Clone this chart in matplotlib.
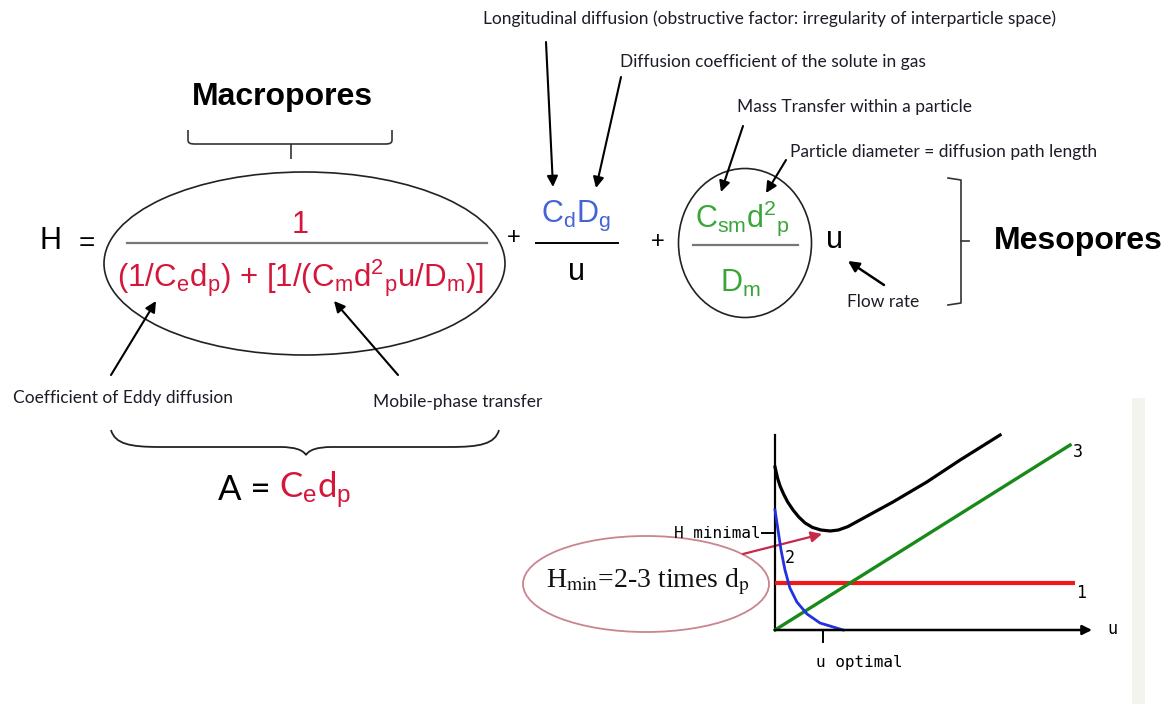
import matplotlib
matplotlib.use('Agg')
import matplotlib.pyplot as plt
from matplotlib.patches import Ellipse, Rectangle, PathPatch
from matplotlib.path import Path

plt.rcParams['mathtext.fontset'] = 'custom'
plt.rcParams['mathtext.rm'] = 'Liberation Sans'
plt.rcParams['mathtext.it'] = 'Liberation Sans:italic'

# --- van Deemter sketch (inset): u and H in arbitrary units ---
u_axis_max = 10.0
h_axis_max = 9.75
term1_u = [0.0, 9.46]                 # A term, constant
term1_h = [2.35, 2.35]
term2_u = [0.0, 0.095, 0.19, 0.315, 0.47, 0.69, 1.01, 1.42, 2.15]   # B/u term
term2_h = [6.0, 5.0, 4.0, 3.0, 2.1, 1.4, 0.8, 0.35, 0.0]
term3_u = [0.0, 9.31]                 # C*u term
term3_h = [0.0, 9.25]
total_u = [0.0, 0.03, 0.08, 0.16, 0.27, 0.4, 0.57, 0.75, 0.95, 1.18, 1.45, 1.74,
           2.0, 2.3, 2.68, 3.2, 3.72, 4.79, 5.84, 7.10]
total_h = [8.15, 7.95, 7.6, 7.2, 6.8, 6.4, 6.0, 5.65, 5.35, 5.13, 5.0, 4.95,
           5.0, 5.17, 5.5, 5.95, 6.4, 7.4, 8.5, 9.75]
h_minimal = 4.85
u_optimal = 1.5
curve_labels = ['1', '2', '3']

RED = '#d4163a'
BLUE = '#4563d6'
GREEN = '#3aa63a'
INK = '#1c1c28'
ANN = 'Lato'
EQ = 'Liberation Sans'

fig = plt.figure(figsize=(11.72, 7.04), dpi=100)
ax = fig.add_axes([0, 0, 1, 1])
ax.set_xlim(0, 1172)
ax.set_ylim(704, 0)
ax.axis('off')

# faint panel edge on the right
ax.add_patch(Rectangle((1132, 398), 13, 306, color='#f4f4ee', lw=0))


def arrow(tail, head, color='black', lw=1.5):
    ax.annotate('', xy=head, xytext=tail,
                arrowprops=dict(arrowstyle='-|>', color=color, lw=lw,
                                mutation_scale=16, shrinkA=0, shrinkB=0))


# annotations at the top
ax.text(483, 19, 'Longitudinal diffusion (obstructive factor: irregularity of interparticle space)',
        family=ANN, fontsize=12.5, color=INK, va='center')
ax.text(620, 62, 'Diffusion coefficient of the solute in gas', family=ANN, fontsize=12.5,
        color=INK, va='center')
ax.text(737, 107, 'Mass Transfer within a particle', family=ANN, fontsize=12.5,
        color=INK, va='center')
ax.text(790, 152, 'Particle diameter = diffusion path length', family=ANN, fontsize=12.5,
        color=INK, va='center')
arrow((546, 42), (553, 187))
arrow((621, 77), (596, 188))
arrow((743, 126), (721, 192))
arrow((786, 160), (766, 193))

# Macropores heading + brace
ax.text(282, 97, 'Macropores', family=EQ, fontweight='bold', fontsize=23,
        ha='center', va='center', color='black')
top_brace = Path([(188, 130), (188, 140), (188, 143), (190, 144), (195, 144),
                  (385, 144), (390, 144), (392, 143), (392, 140), (392, 130),
                  (291, 144), (291, 159)],
                 [Path.MOVETO, Path.LINETO, Path.CURVE4, Path.CURVE4, Path.CURVE4,
                  Path.LINETO, Path.CURVE4, Path.CURVE4, Path.CURVE4, Path.LINETO,
                  Path.MOVETO, Path.LINETO])
ax.add_patch(PathPatch(top_brace, fill=False, lw=1.2, ec='#333333'))

# H = ...
ax.text(50, 241, 'H', family=EQ, fontsize=22, ha='center', va='center')
ax.text(87, 244, '=', family=EQ, fontsize=20, ha='center', va='center')
ax.add_patch(Ellipse((304.5, 263.5), 401, 183, fill=False, ec='#222222', lw=1.2))
ax.text(300, 225, '1', family=EQ, fontsize=22, ha='center', va='center', color=RED)
ax.plot([127, 487], [243, 243], color='#777777', lw=1.6)
ax.text(300, 278,
        r'(1/C$_\mathrm{e}$d$_\mathrm{p}$) + [1/(C$_\mathrm{m}$d$^\mathrm{2}$$_\mathrm{p}$u/D$_\mathrm{m}$)]',
        family=EQ, fontsize=22.5, ha='center', va='center', color=RED)

# + CdDg / u
ax.text(514, 238, '+', family=EQ, fontsize=17, ha='center', va='center')
ax.text(576, 216, r'C$_\mathrm{d}$D$_\mathrm{g}$', family=EQ, fontsize=22,
        ha='center', va='center', color=BLUE)
ax.plot([536, 618], [243, 243], color='black', lw=1.4)
ax.text(577, 272, 'u', family=EQ, fontsize=22, ha='center', va='center')

# + (Csm d2p / Dm) u
ax.text(658, 242, '+', family=EQ, fontsize=17, ha='center', va='center')
ax.add_patch(Ellipse((745, 243), 133, 149, fill=False, ec='#222222', lw=1.2))
ax.text(743, 218, r'C$_\mathrm{sm}$d$^\mathrm{2}$$_\mathrm{p}$', family=EQ, fontsize=22,
        ha='center', va='center', color=GREEN)
ax.plot([693, 798], [245, 245], color='#777777', lw=1.6)
ax.text(740, 283, r'D$_\mathrm{m}$', family=EQ, fontsize=22, ha='center', va='center', color=GREEN)
ax.text(834, 240, 'u', family=EQ, fontsize=22, ha='center', va='center')
arrow((884, 285), (848, 261), lw=1.8)
ax.text(883, 302, 'Flow rate', family=ANN, fontsize=12.5, ha='center', va='center', color=INK)

# Mesopores bracket
ax.plot([948, 961, 961, 948], [178, 180, 303, 305], color='#333333', lw=1.2)
ax.plot([961, 969], [241, 241], color='#333333', lw=1.2)
ax.text(1078, 241, 'Mesopores', family=EQ, fontweight='bold', fontsize=23,
        ha='center', va='center', color='black')

# lower annotations
ax.text(13, 398, 'Coefficient of Eddy diffusion', family=ANN, fontsize=12.5, va='center', color=INK)
ax.text(373, 402, 'Mobile-phase transfer', family=ANN, fontsize=12.5, va='center', color=INK)
arrow((111, 375), (156, 301))
arrow((398, 375), (334, 301))

bottom_brace = Path([(111, 430), (115, 444), (130, 447), (160, 447),
                     (280, 447), (295, 447), (303, 450), (306, 455),
                     (309, 450), (317, 447), (332, 447),
                     (450, 447), (480, 447), (495, 444), (499, 430)],
                    [Path.MOVETO, Path.CURVE4, Path.CURVE4, Path.CURVE4,
                     Path.LINETO, Path.CURVE4, Path.CURVE4, Path.CURVE4,
                     Path.CURVE4, Path.CURVE4, Path.CURVE4,
                     Path.LINETO, Path.CURVE4, Path.CURVE4, Path.CURVE4])
ax.add_patch(PathPatch(bottom_brace, fill=False, lw=1.3, ec='#222222'))

ax.text(271, 490, 'A =', family=ANN, fontsize=25, ha='right', va='center', color='black')
ax.text(279, 490, r'C$_\mathrm{e}$d$_\mathrm{p}$', family=ANN, fontsize=25,
        ha='left', va='center', color=RED)

# H_min callout
ax.add_patch(Ellipse((646, 584), 246, 96, fill=False, ec='#c9848f', lw=1.3))
ax.text(648, 582, r'H$_\mathrm{min}$=2-3 times d$_\mathrm{p}$', family='Liberation Serif',
        math_fontfamily='stix', fontsize=20, ha='center', va='center', color='#111111')
arrow((743, 554), (822, 534), color='#c8284a', lw=1.6)

# inset van Deemter plot
ix = fig.add_axes([775 / 1172, 74 / 704, 317 / 1172, 200 / 704])
ix.set_xlim(0, u_axis_max)
ix.set_ylim(0, u_axis_max)
ix.axis('off')
ix.plot([0, 0], [0, h_axis_max], color='black', lw=1.6, clip_on=False)
ix.annotate('', xy=(u_axis_max, 0), xytext=(0, 0),
            arrowprops=dict(arrowstyle='-|>', color='black', lw=1.8, mutation_scale=14,
                            shrinkA=0, shrinkB=0))
ix.plot(term1_u, term1_h, color='#f01818', lw=3, solid_capstyle='butt', clip_on=False)
ix.plot(term3_u, term3_h, color='#188a18', lw=2.4, clip_on=False)
ix.plot(term2_u, term2_h, color='#2230e0', lw=2.0, clip_on=False)
ix.plot(total_u, total_h, color='black', lw=2.3, clip_on=False, solid_joinstyle='round')
ix.plot([-0.4, 0], [h_minimal, h_minimal], color='black', lw=1.4, clip_on=False)
ix.plot([u_optimal, u_optimal], [0, -0.6], color='black', lw=1.4, clip_on=False)

mono = 'DejaVu Sans Mono'
ix.text(-0.45, h_minimal, 'H minimal', family=mono, fontsize=11.5, ha='right', va='center')
ix.text(u_optimal + 1.15, -1.6, 'u optimal', family=mono, fontsize=11.5, ha='center', va='center')
ix.text(term1_u[-1] + 0.05, term1_h[0] - 0.5, curve_labels[0], family=mono, fontsize=12,
        ha='left', va='center')
ix.text(0.45, 3.6, curve_labels[1], family=mono, fontsize=12, ha='center', va='center')
ix.text(term3_u[-1] + 0.1, term3_h[-1] - 0.35, curve_labels[2], family=mono, fontsize=12,
        ha='left', va='center')
ix.text(u_axis_max + 0.65, 0.05, 'u', family=mono, fontsize=12, ha='center', va='center')

fig.savefig('out.png', dpi=100, facecolor='white')
